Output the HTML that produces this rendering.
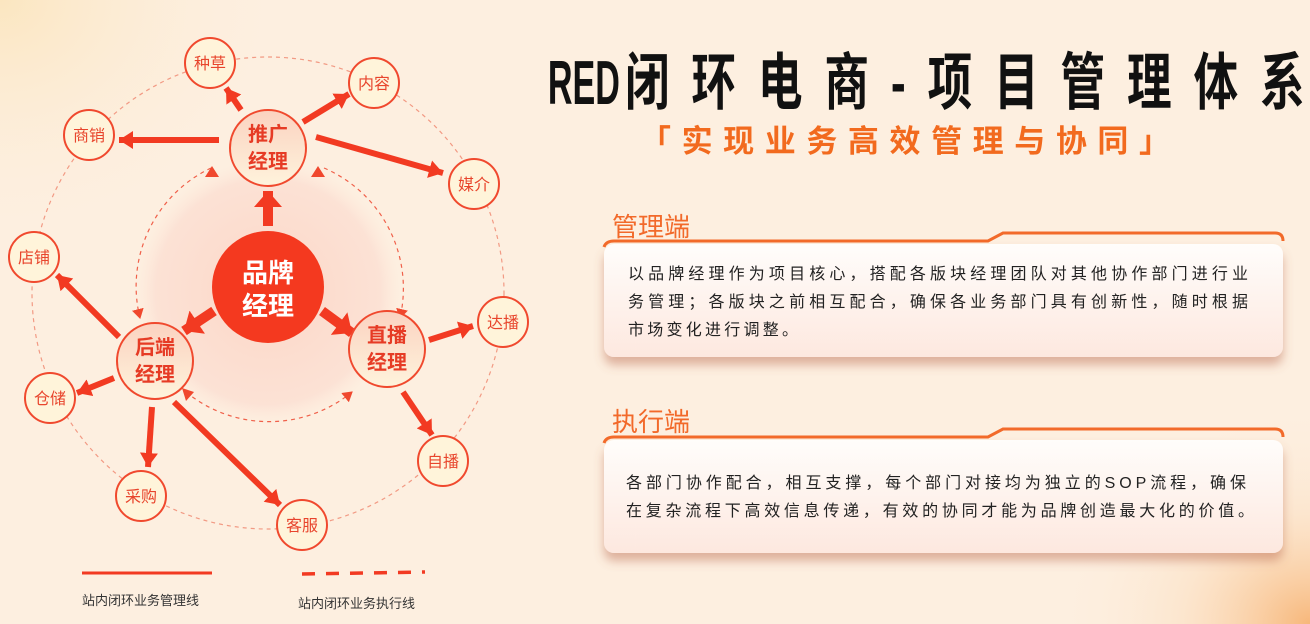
<!DOCTYPE html>
<html><head><meta charset="utf-8"><style>
html,body{margin:0;padding:0;width:1310px;height:624px;overflow:hidden}
body{background:#fdefe0}
svg{display:block}
.t{font-family:"Liberation Sans","Noto Sans CJK SC",sans-serif}
</style></head><body>
<svg class="t" width="1310" height="624" viewBox="0 0 1310 624" xmlns="http://www.w3.org/2000/svg">
<defs>
<radialGradient id="bgTL" cx="0" cy="0" r="1"><stop offset="0" stop-color="#fbe6c0"/><stop offset="1" stop-color="#fdefe0" stop-opacity="0"/></radialGradient>
<radialGradient id="bgBR" cx="1" cy="1" r="1"><stop offset="0" stop-color="#f7b77a"/><stop offset="0.5" stop-color="#fbd9b5" stop-opacity="0.4"/><stop offset="1" stop-color="#fdefe0" stop-opacity="0"/></radialGradient>
<radialGradient id="glow" cx="0.5" cy="0.5" r="0.5"><stop offset="0" stop-color="#fbd0c0" stop-opacity="0.8"/><stop offset="0.85" stop-color="#fcdcd0" stop-opacity="0.7"/><stop offset="1" stop-color="#fde4d6" stop-opacity="0"/></radialGradient>
<linearGradient id="mgr" x1="0" y1="0" x2="0" y2="1"><stop offset="0" stop-color="#fbd2c0"/><stop offset="1" stop-color="#fef3dc"/></linearGradient>
<linearGradient id="card" x1="0" y1="0" x2="0" y2="1"><stop offset="0" stop-color="#fffdfb"/><stop offset="1" stop-color="#fde8df"/></linearGradient>
<filter id="sh" x="-5%" y="-20%" width="110%" height="160%"><feDropShadow dx="0" dy="8" stdDeviation="5" flood-color="#b8664a" flood-opacity="0.45"/></filter>
<marker id="ah" markerUnits="userSpaceOnUse" markerWidth="20" markerHeight="20" refX="14" refY="9" orient="auto"><path d="M0,0 L14,9 L0,18 Z" fill="#f23a22"/></marker>
<marker id="ahb" markerUnits="userSpaceOnUse" markerWidth="26" markerHeight="30" refX="16" refY="14" orient="auto"><path d="M0,0 L16,14 L0,28 Z" fill="#f23a22"/></marker>
<marker id="ds" markerUnits="userSpaceOnUse" markerWidth="12" markerHeight="12" refX="9" refY="6" orient="auto"><path d="M0,0 L10,6 L0,12 Z" fill="#f0482e"/></marker>
</defs>
<rect width="1310" height="624" fill="#fdefe0"/>
<rect width="300" height="250" fill="url(#bgTL)"/>
<rect x="1050" y="400" width="260" height="224" fill="url(#bgBR)"/>

<circle cx="268" cy="292" r="132" fill="url(#glow)"/>
<circle cx="268" cy="293" r="236" fill="none" stroke="#f29a84" stroke-width="1.2" stroke-dasharray="4 4"/>
<g fill="none" stroke="#f0604a" stroke-width="1.2" stroke-dasharray="4 4">
<path d="M211,168 A131,131 0 0 0 140,318" marker-end="url(#ds)"/>
<path d="M324,168 A131,131 0 0 1 400,318" marker-end="url(#ds)"/>
<path d="M186,392 A131,131 0 0 0 352,392" marker-end="url(#ds)"/>
</g>
<path d="M205,167 L219,167 L212,178 Z" fill="#f0482e" transform="rotate(180 212 172)"/>
<path d="M311,167 L325,167 L318,178 Z" fill="#f0482e" transform="rotate(180 318 172)"/>
<path d="M182,388 L194,392 L186,401 Z" fill="#f0482e"/>

<g stroke="#f23a22" stroke-width="6" fill="none">
<line x1="241" y1="110" x2="226" y2="88" marker-end="url(#ah)"/>
<line x1="303" y1="122" x2="349" y2="94" marker-end="url(#ah)"/>
<line x1="219" y1="140" x2="119" y2="140" marker-end="url(#ah)"/>
<line x1="316" y1="137" x2="443" y2="173" marker-end="url(#ah)"/>
<line x1="429" y1="340" x2="473" y2="326" marker-end="url(#ah)"/>
<line x1="403" y1="392" x2="432" y2="435" marker-end="url(#ah)"/>
<line x1="119" y1="337" x2="57" y2="275" marker-end="url(#ah)"/>
<line x1="114" y1="378" x2="77" y2="393" marker-end="url(#ah)"/>
<line x1="152" y1="407" x2="148" y2="467" marker-end="url(#ah)"/>
<line x1="174" y1="402" x2="280" y2="505" marker-end="url(#ah)"/>
</g>
<g stroke="#f23a22" stroke-width="10" fill="none">
<line x1="268" y1="226" x2="268" y2="191" marker-end="url(#ahb)"/>
<line x1="214" y1="311" x2="184" y2="331" marker-end="url(#ahb)"/>
<line x1="322" y1="311" x2="352" y2="333" marker-end="url(#ahb)"/>
</g>

<g fill="#fff4da" stroke="#f0492e" stroke-width="2">
<circle cx="210" cy="63" r="25"/><circle cx="374" cy="83" r="25"/>
<circle cx="89" cy="135" r="25"/><circle cx="474" cy="184" r="25"/>
<circle cx="34" cy="257" r="25"/><circle cx="503" cy="322" r="25"/>
<circle cx="50" cy="398" r="25"/><circle cx="443" cy="461" r="25"/>
<circle cx="141" cy="496" r="25"/><circle cx="302" cy="525" r="25"/>
</g>
<g fill="#e8452c" font-size="16" text-anchor="middle">
<text x="210" y="69">种草</text><text x="374" y="89">内容</text>
<text x="89" y="141">商销</text><text x="474" y="190">媒介</text>
<text x="34" y="263">店铺</text><text x="503" y="328">达播</text>
<text x="50" y="404">仓储</text><text x="443" y="467">自播</text>
<text x="141" y="502">采购</text><text x="302" y="531">客服</text>
</g>
<g fill="url(#mgr)" stroke="#f0492e" stroke-width="2">
<circle cx="268" cy="148" r="38"/><circle cx="155" cy="361" r="38"/><circle cx="387" cy="349" r="38"/>
</g>
<g fill="#e63b25" font-size="20" font-weight="bold" text-anchor="middle">
<text x="268" y="141">推广</text><text x="268" y="168">经理</text>
<text x="155" y="354">后端</text><text x="155" y="381">经理</text>
<text x="387" y="342">直播</text><text x="387" y="369">经理</text>
</g>
<circle cx="268" cy="287" r="56" fill="#f4391f"/>
<g fill="#fff" font-size="26" font-weight="bold" text-anchor="middle">
<text x="268" y="282">品牌</text><text x="268" y="315">经理</text>
</g>

<line x1="82" y1="573" x2="212" y2="573" stroke="#f23a22" stroke-width="3"/>
<line x1="302" y1="574" x2="425" y2="572" stroke="#f23a22" stroke-width="3.5" stroke-dasharray="13 11"/>
<g fill="#333" font-size="13"><text x="82" y="605">站内闭环业务管理线</text><text x="298" y="608">站内闭环业务执行线</text></g>

<g transform="scale(0.72 1)" font-size="62" font-weight="bold" fill="#111">
<text x="761" y="104" textLength="100" lengthAdjust="spacingAndGlyphs">RED</text>
<text x="868" y="104" textLength="944" lengthAdjust="spacing">闭环电商-项目管理体系</text>
</g>
<text x="640" y="152" font-size="31" font-weight="bold" fill="#f26a1e" textLength="530" lengthAdjust="spacing">「实现业务高效管理与协同」</text>

<text x="612" y="236" font-size="26" fill="#f2692a">管理端</text>
<rect x="604" y="244" width="679" height="113" rx="10" fill="url(#card)" filter="url(#sh)"/>
<path d="M604,247 Q606,241 614,241 L988,241 L1003,233 L1275,233 Q1283,233 1283,241" fill="none" stroke="#f26a2a" stroke-width="3"/>
<g fill="#222" font-size="16">
<text x="628" y="279" textLength="620" lengthAdjust="spacing">以品牌经理作为项目核心，搭配各版块经理团队对其他协作部门进行业</text>
<text x="628" y="307" textLength="620" lengthAdjust="spacing">务管理；各版块之前相互配合，确保各业务部门具有创新性，随时根据</text>
<text x="628" y="335" textLength="170" lengthAdjust="spacing">市场变化进行调整。</text>
</g>

<text x="612" y="431" font-size="26" fill="#f2692a">执行端</text>
<rect x="604" y="440" width="679" height="113" rx="10" fill="url(#card)" filter="url(#sh)"/>
<path d="M604,443 Q606,437 614,437 L988,437 L1003,429 L1275,429 Q1283,429 1283,437" fill="none" stroke="#f26a2a" stroke-width="3"/>
<g fill="#222" font-size="16">
<text x="626" y="488" textLength="620" lengthAdjust="spacing">各部门协作配合，相互支撑，每个部门对接均为独立的SOP流程，确保</text>
<text x="626" y="516" textLength="628" lengthAdjust="spacing">在复杂流程下高效信息传递，有效的协同才能为品牌创造最大化的价值。</text>
</g>
</svg>
</body></html>
